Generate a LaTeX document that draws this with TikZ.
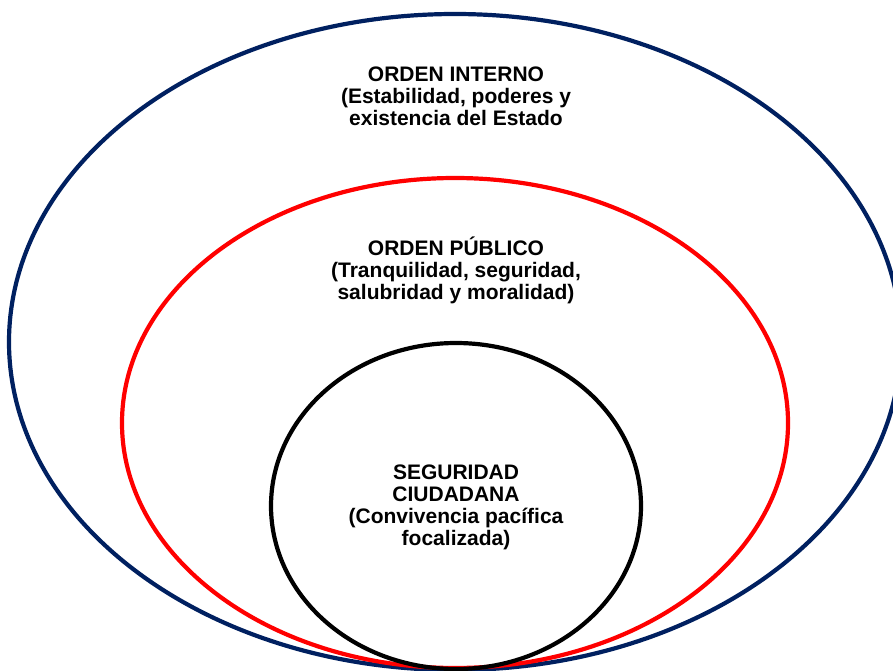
\documentclass[tikz,border=0pt]{standalone}
\usepackage{fontspec}
\setmainfont{Liberation Sans}
\definecolor{navy}{HTML}{002060}
\begin{document}
\begin{tikzpicture}[
    x=1pt, y=-1pt,
    every node/.style={align=center, inner sep=0pt, font=\bfseries\fontsize{21}{22}\selectfont},
    ring line/.style={draw, line width=4.2pt},
    ]
\useasboundingbox (0,0) rectangle (893,671);
\clip (0,0) rectangle (893,671);
\draw[ring line, navy] (455,342) ellipse (446 and 328);
\draw[ring line, red] (455,423) ellipse (333 and 245);
\draw[ring line, black] (456,506) ellipse (185 and 163);
\node (interno) at (456,96.5) {ORDEN INTERNO\\(Estabilidad, poderes y\\existencia del Estado};
\node (publico) at (456,270.5) {ORDEN PÚBLICO\\(Tranquilidad, seguridad,\\salubridad y moralidad)};
\node (seguridad) at (456,507.5) {SEGURIDAD\\CIUDADANA\\(Convivencia pacífica\\focalizada)};
\end{tikzpicture}
\end{document}
